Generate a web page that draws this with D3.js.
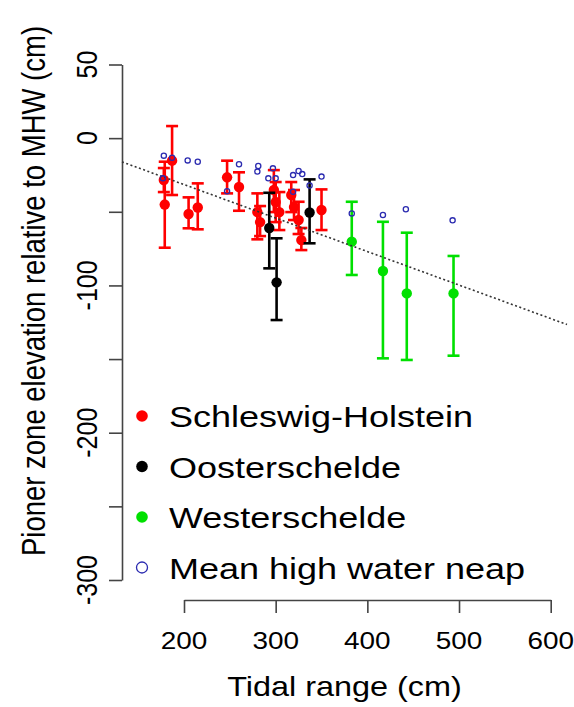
<!DOCTYPE html>
<html>
<head>
<meta charset="utf-8">
<script src="https://cdn.jsdelivr.net/npm/d3@7"></script>
<style>
  body { margin: 0; background: #fff; }
  svg { display: block; }
  text { font-family: "Liberation Sans", Arial, sans-serif; fill: #000; }
</style>
</head>
<body>
<div id="chart"></div>
<script>
// pioneer zone elevation vs tidal range
// values: [tidal range, mean, lower, upper]
var schleswigHolstein = [
  [178, -28.4, -36.6, -20.3],
  [179, -45.1, -74.4, -16.0],
  [187, -15.3, -38.6, 8.2],
  [205, -51.5, -61.2, -40.2],
  [215, -47.1, -61.9, -30.7],
  [247, -26.6, -37.5, -15.3],
  [260, -33.2, -49.3, -23.2],
  [280, -50.2, -68.7, -37.5],
  [283, -57.0, -66.5, -46.1],
  [298, -35.2, -50.2, -21.7],
  [300, -43.4, -57.0, -29.8],
  [304, -50.2, -62.4, -36.6],
  [317, -38.6, -50.2, -29.8],
  [320, -46.8, -55.6, -35.2],
  [325, -55.6, -65.1, -43.2],
  [328, -69.2, -76.0, -61.0],
  [350, -48.8, -62.4, -34.8]
];
var oosterschelde = [
  [293, -61.0, -88.4, -37.1],
  [301, -97.9, -123.5, -68.0],
  [337, -50.5, -71.4, -28.0]
];
var westerschelde = [
  [383, -70.3, -92.9, -43.2],
  [417, -90.2, -149.5, -56.8],
  [443, -105.4, -150.6, -64.2],
  [494, -105.4, -147.7, -80.0]
];
// mean high water neap: [tidal range, elevation]
var mhwn = [
  [178, -11.9], [187, -13.3], [204, -15.1], [215, -16.0], [177, -27.3],
  [247, -36.1], [260, -17.7], [281, -18.9], [280, -22.7], [297, -20.5],
  [292, -27.3], [300, -27.3], [319, -25.1], [325, -22.3], [329, -24.4],
  [319, -36.4], [337, -32.2], [350, -26.1], [383, -51.1], [417, -52.2],
  [442, -48.3], [493, -55.8]
];
var trendCoef = [14.0, -0.2275]; // intercept, slope

var xTicks = [200, 300, 400, 500, 600];
var yTicks = [50, 0, -50, -100, -150, -200, -250, -300];
var yLabels = [50, 0, -100, -200, -300];
var legendLabels = ["Schleswig-Holstein", "Oosterschelde", "Westerschelde", "Mean high water neap"];
var legendColors = ["#ff0000", "#000000", "#00e000", "#2b2bb0"];

var width = 574, height = 707;
var sx = 1.2; // text looks stretched sideways in the reference

var svg = d3.select("#chart").append("svg")
  .attr("width", width).attr("height", height);

var x = d3.scaleLinear().domain([200, 600]).range([184, 550.7]);
var y = d3.scaleLinear().domain([50, -300]).range([64.5, 580]);
var plotLeft = 122, plotRight = 567, plotBottom = 600;

// axes
var yAxis = svg.append("g")
  .attr("transform", "translate(" + plotLeft + ",0)")
  .call(d3.axisLeft(y).tickValues(yTicks).tickSize(13).tickSizeOuter(0).tickFormat(""));
var xAxis = svg.append("g")
  .attr("transform", "translate(0," + plotBottom + ")")
  .call(d3.axisBottom(x).tickValues(xTicks).tickSize(13).tickSizeOuter(0).tickFormat(""));
svg.selectAll(".domain, .tick line").attr("stroke", "#444").attr("stroke-width", 1.6);

svg.selectAll(".ylab")
  .data(yLabels)
  .enter()
  .append("text")
  .attr("class", "ylab")
  .attr("text-anchor", "middle")
  .attr("font-size", 25)
  .attr("transform", function(d) { return "translate(97," + y(d) + ") scale(" + sx + ",1) rotate(-90)"; })
  .text(function(d) { return d; });

svg.selectAll(".xlab")
  .data(xTicks)
  .enter()
  .append("text")
  .attr("class", "xlab")
  .attr("text-anchor", "middle")
  .attr("font-size", 24.5)
  .attr("transform", function(d) { return "translate(" + x(d) + ",649) scale(1.14,1)"; })
  .text(function(d) { return d; });

svg.append("text")
  .attr("text-anchor", "middle")
  .attr("font-size", 27)
  .attr("transform", "translate(" + (plotLeft + plotRight) / 2 + ",696) scale(" + sx + ",1)")
  .text("Tidal range (cm)");

svg.append("text")
  .attr("text-anchor", "middle")
  .attr("font-size", 27.5)
  .attr("transform", "translate(45,291) scale(" + sx + ",1) rotate(-90)")
  .text("Pioner zone elevation relative to MHW (cm)");

// error bars + means
function drawGroup(data, color) {
  var g = svg.append("g");
  var bars = g.selectAll("g").data(data).enter().append("g");
  bars.append("line")
    .attr("x1", function(d) { return x(d[0]); })
    .attr("x2", function(d) { return x(d[0]); })
    .attr("y1", function(d) { return y(d[2]); })
    .attr("y2", function(d) { return y(d[3]); });
  [2, 3].forEach(function(k) {
    bars.append("line")
      .attr("x1", function(d) { return x(d[0]) - 6; })
      .attr("x2", function(d) { return x(d[0]) + 6; })
      .attr("y1", function(d) { return y(d[k]); })
      .attr("y2", function(d) { return y(d[k]); });
  });
  bars.selectAll("line").attr("stroke", color).attr("stroke-width", 2.6);
  bars.append("circle")
    .attr("cx", function(d) { return x(d[0]); })
    .attr("cy", function(d) { return y(d[1]); })
    .attr("r", 5.2)
    .attr("fill", color);
}
drawGroup(schleswigHolstein, legendColors[0]);
drawGroup(oosterschelde, legendColors[1]);
drawGroup(westerschelde, legendColors[2]);

// regression line across the plot region
var x0 = x.invert(plotLeft), x1 = x.invert(plotRight);
svg.append("line")
  .attr("x1", x(x0)).attr("y1", y(trendCoef[0] + trendCoef[1] * x0))
  .attr("x2", x(x1)).attr("y2", y(trendCoef[0] + trendCoef[1] * x1))
  .attr("stroke", "#333")
  .attr("stroke-width", 1.6)
  .attr("stroke-dasharray", "2,2.5");

svg.selectAll(".mhwn")
  .data(mhwn)
  .enter()
  .append("circle")
  .attr("class", "mhwn")
  .attr("cx", function(d) { return x(d[0]); })
  .attr("cy", function(d) { return y(d[1]); })
  .attr("r", 2.6)
  .attr("fill", "none")
  .attr("stroke", legendColors[3])
  .attr("stroke-width", 1.3);

// legend
var legend = svg.selectAll(".leg")
  .data(legendLabels)
  .enter()
  .append("g")
  .attr("class", "leg")
  .attr("transform", function(d, i) { return "translate(142," + (416 + i * 50.5) + ")"; });
legend.append("circle")
  .attr("r", function(d, i) { return i < 3 ? 5.8 : 5.5; })
  .attr("fill", function(d, i) { return i < 3 ? legendColors[i] : "none"; })
  .attr("stroke", function(d, i) { return i < 3 ? "none" : legendColors[i]; })
  .attr("stroke-width", 1.3);
legend.append("text")
  .attr("font-size", 30)
  .attr("transform", "translate(27,11) scale(" + sx + ",1)")
  .text(function(d) { return d; });
</script>
</body>
</html>
